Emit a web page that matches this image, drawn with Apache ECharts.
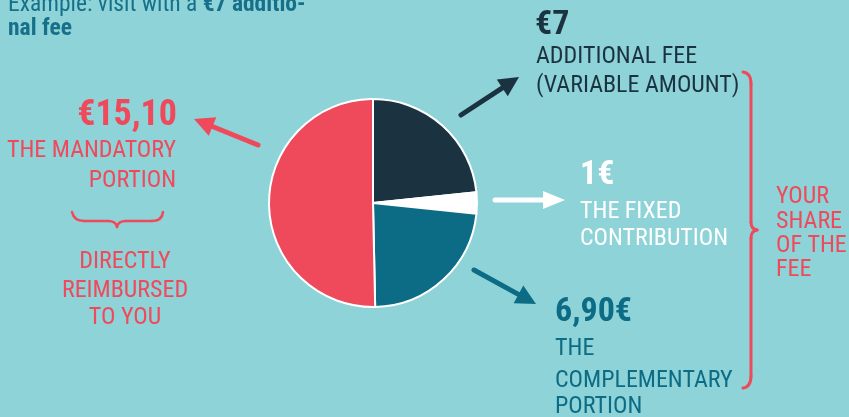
<!DOCTYPE html>
<html>
<head>
<meta charset="utf-8">
<script src="https://cdn.jsdelivr.net/npm/echarts@6/dist/echarts.min.js"></script>
<style>
  html, body { margin: 0; padding: 0; background: #8ed3d7; }
  #main { width: 849px; height: 417px; }
</style>
</head>
<body>
<div id="main"></div>
<script>
// parts of the fee (starting at 12 o'clock, clockwise)
var partNames = ['Additional fee', 'Fixed contribution', 'Complementary portion', 'Mandatory portion'];
var partValues = [7, 1, 6.9, 15.1];
var partColors = ['#1b3340', '#ffffff', '#0c6c86', '#ef4a5b'];
// big amounts shown next to the pie
var amountLabels = ['€7', '1€', '6,90€', '€15,10'];

var FONT = "'Roboto Condensed', 'Liberation Sans Narrow', 'DejaVu Sans Condensed', Roboto, sans-serif";
var RED = '#ef4a5b', DARK = '#1b3340', TEAL = '#0c6c86', WHITE = '#ffffff';

var chart = echarts.init(document.getElementById('main'));

// simple text helper
function txt(s, x, y, color, size, opts) {
  opts = opts || {};
  return {
    type: 'text', x: x, y: y, z: 10,
    style: {
      text: s, fill: color,
      fontSize: size, fontFamily: FONT,
      fontWeight: opts.bold ? 'bold' : 'normal',
      align: opts.align || 'left', textAlign: opts.align || 'left',
      verticalAlign: 'middle', textVerticalAlign: 'middle',
      rich: opts.rich
    }
  };
}

// arrow = line + triangle head
function arrow(x1, y1, x2, y2, color, w, headLen, headW) {
  var dx = x2 - x1, dy = y2 - y1;
  var len = Math.sqrt(dx * dx + dy * dy);
  var ux = dx / len, uy = dy / len;
  var bx = x2 - ux * headLen, by = y2 - uy * headLen;
  var px = -uy * headW, py = ux * headW;
  return [{
    type: 'line', z: 5,
    shape: { x1: x1, y1: y1, x2: bx + ux * 2, y2: by + uy * 2 },
    style: { stroke: color, lineWidth: w, lineCap: 'round' }
  }, {
    type: 'polygon', z: 5,
    shape: { points: [[x2, y2], [bx + px, by + py], [bx - px, by - py]] },
    style: { fill: color }
  }];
}

// curly brace made of line / quadratic pieces: [x, y] = line to, [cx, cy, x, y] = curve to
function brace(start, segs, color, w) {
  var out = [], cur = start;
  segs.forEach(function (s) {
    var st = { stroke: color, lineWidth: w, fill: null, lineCap: 'round' };
    if (s.length === 2) {
      out.push({ type: 'line', z: 5, shape: { x1: cur[0], y1: cur[1], x2: s[0], y2: s[1] }, style: st });
      cur = s;
    } else {
      out.push({ type: 'bezierCurve', z: 5, shape: { x1: cur[0], y1: cur[1], cpx1: s[0], cpy1: s[1], x2: s[2], y2: s[3] }, style: st });
      cur = [s[2], s[3]];
    }
  });
  return out;
}

var graphics = [];

// title (cut at the top like the original)
graphics.push(txt('{r|Example: visit with a }{b|€7 additio-}', 8, 5, '#17708a', 23.5, {
  rich: {
    r: { fontSize: 23.5, fontFamily: FONT, fill: '#17708a' },
    b: { fontSize: 23.5, fontFamily: FONT, fontWeight: 'bold', fill: '#17708a' }
  }
}));
graphics.push(txt('nal fee', 8, 29, '#17708a', 23.5, { bold: true }));

// left side: mandatory portion
graphics.push(txt(amountLabels[3], 177, 116, RED, 36, { bold: true, align: 'right' }));
graphics.push(txt('THE MANDATORY', 176, 151, RED, 24, { align: 'right' }));
graphics.push(txt('PORTION', 176, 180.5, RED, 24, { align: 'right' }));
graphics = graphics.concat(brace([72, 212], [
  [74, 221, 84, 221], [108, 221], [116, 221, 117, 227],
  [118, 221, 126, 221], [152, 221], [162, 221, 163, 212]
], RED, 2.5));
graphics.push(txt('DIRECTLY', 125, 262, RED, 24, { align: 'center' }));
graphics.push(txt('REIMBURSED', 125, 291, RED, 24, { align: 'center' }));
graphics.push(txt('TO YOU', 125, 317.5, RED, 24, { align: 'center' }));

// right side: additional fee
graphics.push(txt(amountLabels[0], 535, 25, DARK, 34, { bold: true }));
graphics.push(txt('ADDITIONAL FEE', 536, 57, DARK, 24));
graphics.push(txt('(VARIABLE AMOUNT)', 536, 86, DARK, 24));

// fixed contribution
graphics.push(txt(amountLabels[1], 580, 175, WHITE, 34, { bold: true }));
graphics.push(txt('THE FIXED', 580, 211.5, WHITE, 24));
graphics.push(txt('CONTRIBUTION', 580, 238.5, WHITE, 24));

// complementary portion
graphics.push(txt(amountLabels[2], 555, 312.5, TEAL, 34, { bold: true }));
graphics.push(txt('THE', 555, 348.5, TEAL, 24));
graphics.push(txt('COMPLEMENTARY', 555, 381, TEAL, 24));
graphics.push(txt('PORTION', 555, 406.5, TEAL, 24));

// brace "your share of the fee"
graphics = graphics.concat(brace([743, 72], [
  [751, 73, 751, 84], [751, 222], [751, 229, 757, 230],
  [751, 231, 751, 238], [751, 376], [751, 387, 743, 388]
], RED, 3));
graphics.push(txt('YOUR', 776, 197, RED, 24));
graphics.push(txt('SHARE', 776, 222, RED, 24));
graphics.push(txt('OF THE', 776, 246, RED, 24));
graphics.push(txt('FEE', 776, 270, RED, 24));

// arrows
graphics = graphics
  .concat(arrow(258, 145, 194, 119, RED, 5, 20, 10))
  .concat(arrow(461, 115, 519, 77, DARK, 5, 20, 10))
  .concat(arrow(495, 200, 565, 200, WHITE, 5, 22, 9))
  .concat(arrow(474, 270, 536, 304, TEAL, 5, 20, 10));

var option = {
  backgroundColor: '#8ed3d7',
  animation: false,
  series: [{
    type: 'pie',
    center: [373, 203],
    radius: 104,
    startAngle: 90,
    clockwise: true,
    label: { show: false },
    labelLine: { show: false },
    itemStyle: { borderColor: '#ffffff', borderWidth: 2 },
    emphasis: { disabled: true },
    data: partNames.map(function (n, i) {
      return { name: n, value: partValues[i], itemStyle: { color: partColors[i] } };
    })
  }],
  graphic: graphics
};

chart.setOption(option);
</script>
</body>
</html>
